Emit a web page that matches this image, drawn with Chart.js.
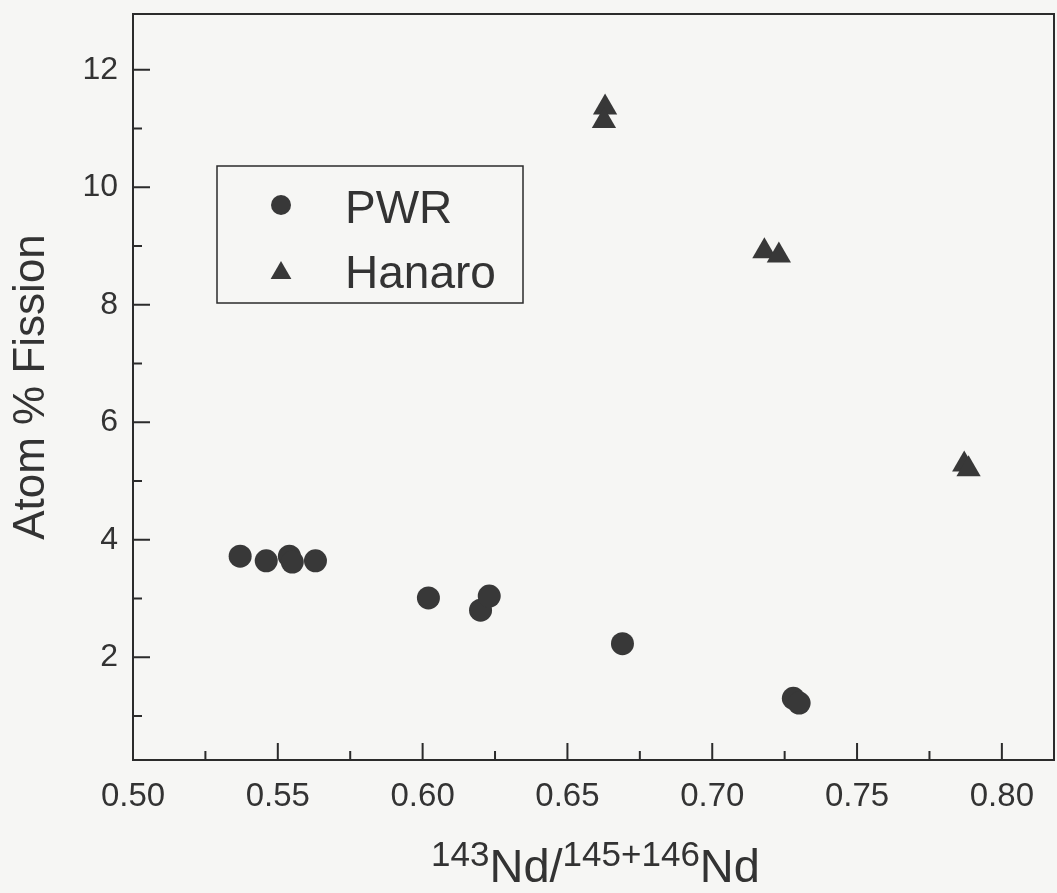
<!DOCTYPE html>
<html>
<head>
<meta charset="utf-8">
<script src="https://cdn.jsdelivr.net/npm/chart.js@4.4.1/dist/chart.umd.min.js"></script>
<style>
  html, body { margin: 0; padding: 0; background: #f6f6f4; overflow: hidden; }
  #wrap { width: 1057px; height: 893px; position: relative; }
  #wrap canvas { display: block; }
</style>
</head>
<body>
<div id="wrap"><canvas id="fissionChart"></canvas></div>
<script>
// Data
const pwrX = [0.537, 0.546, 0.554, 0.555, 0.563, 0.602, 0.620, 0.623, 0.669, 0.728, 0.730];
const pwrY = [3.72, 3.64, 3.72, 3.62, 3.64, 3.01, 2.80, 3.04, 2.23, 1.30, 1.22];

const hanaroX = [0.663, 0.6626, 0.718, 0.723, 0.787, 0.7885];
const hanaroY = [11.36, 11.13, 8.91, 8.84, 5.28, 5.20];

// Axis ticks
const xMajorTicks = [0.50, 0.55, 0.60, 0.65, 0.70, 0.75, 0.80];
const xMinorTicks = [0.525, 0.575, 0.625, 0.675, 0.725, 0.775];
const yMajorTicks = [2, 4, 6, 8, 10, 12];
const yMinorTicks = [1, 3, 5, 7, 9, 11];

const seriesLabels = ['PWR', 'Hanaro'];

const inkColor = '#2b2b2b';
const textColor = '#333333';
const markColor = '#383838';
const fontFamily = "'Liberation Sans', Arial, Helvetica, sans-serif";

function toPoints(xs, ys) {
    return xs.map((v, i) => ({x: v, y: ys[i]}));
}

// drop the extra room Chart.js keeps for edge labels
function noEdgePadding(scale) {
    scale.paddingTop = 0;
    scale.paddingBottom = 0;
    scale.paddingLeft = 0;
    scale.paddingRight = 0;
}

// Frame, inward ticks, legend and x title drawn on top of the chart
const decorPlugin = {
    id: 'decor',
    afterDraw(chart) {
        const ctx = chart.ctx;
        const a = chart.chartArea;
        const xs = chart.scales.x;
        const ys = chart.scales.y;

        ctx.save();
        ctx.strokeStyle = inkColor;
        ctx.lineWidth = 2;
        ctx.strokeRect(a.left, a.top, a.right - a.left, a.bottom - a.top);

        // ticks pointing into the plot
        ctx.beginPath();
        xMajorTicks.forEach(v => {
            const px = xs.getPixelForValue(v);
            ctx.moveTo(px, a.bottom);
            ctx.lineTo(px, a.bottom - 17);
        });
        xMinorTicks.forEach(v => {
            const px = xs.getPixelForValue(v);
            ctx.moveTo(px, a.bottom);
            ctx.lineTo(px, a.bottom - 9);
        });
        yMajorTicks.forEach(v => {
            const py = ys.getPixelForValue(v);
            ctx.moveTo(a.left, py);
            ctx.lineTo(a.left + 17, py);
        });
        yMinorTicks.forEach(v => {
            const py = ys.getPixelForValue(v);
            ctx.moveTo(a.left, py);
            ctx.lineTo(a.left + 9, py);
        });
        ctx.stroke();

        // legend box
        const lx = 217, ly = 166, lw = 306, lh = 137;
        ctx.lineWidth = 1.5;
        ctx.strokeRect(lx, ly, lw, lh);
        chart.data.datasets.forEach((ds, i) => {
            const cy = ly + 39 + i * 65;
            ctx.fillStyle = markColor;
            Chart.helpers.drawPoint(ctx, {
                pointStyle: ds.pointStyle,
                radius: ds.pointStyle === 'triangle' ? 12 : 10,
                rotation: 0,
                borderWidth: 0
            }, lx + 64, ds.pointStyle === 'triangle' ? cy + 3 : cy);
            ctx.fillStyle = textColor;
            ctx.font = '46px ' + fontFamily;
            ctx.textBaseline = 'alphabetic';
            ctx.textAlign = 'left';
            ctx.fillText(ds.label, lx + 128, cy + 18);
        });

        // x title with superscript mass numbers
        const parts = [
            {t: '143', sup: true},
            {t: 'Nd', sup: false},
            {t: '/', sup: false},
            {t: '145+146', sup: true},
            {t: 'Nd', sup: false}
        ];
        const bigFont = '47px ' + fontFamily;
        const supFont = '35px ' + fontFamily;
        let total = 0;
        parts.forEach(p => {
            ctx.font = p.sup ? supFont : bigFont;
            p.w = ctx.measureText(p.t).width;
            total += p.w;
        });
        let tx = (a.left + a.right) / 2 + 2 - total / 2;
        const base = 882;
        ctx.fillStyle = textColor;
        ctx.textAlign = 'left';
        parts.forEach(p => {
            ctx.font = p.sup ? supFont : bigFont;
            ctx.fillText(p.t, tx, p.sup ? base - 16 : base);
            tx += p.w;
        });
        ctx.restore();
    }
};

function createFissionChart() {
    const ctx = document.getElementById('fissionChart').getContext('2d');

    new Chart(ctx, {
        type: 'scatter',
        data: {
            datasets: [
                {
                    label: seriesLabels[0],
                    data: toPoints(pwrX, pwrY),
                    pointStyle: 'circle',
                    pointRadius: 11.5,
                    backgroundColor: markColor,
                    borderWidth: 0
                },
                {
                    label: seriesLabels[1],
                    data: toPoints(hanaroX, hanaroY),
                    pointStyle: 'triangle',
                    pointRadius: 14,
                    backgroundColor: markColor,
                    borderWidth: 0
                }
            ]
        },
        options: {
            responsive: true,
            maintainAspectRatio: false,
            animation: false,
            layout: {
                autoPadding: false,
                padding: {top: 14, right: 3, left: 0, bottom: 0}
            },
            plugins: {
                legend: {display: false},
                tooltip: {enabled: false}
            },
            scales: {
                x: {
                    type: 'linear',
                    min: 0.5,
                    max: 0.818,
                    grid: {display: false, drawTicks: false},
                    border: {display: false},
                    afterBuildTicks: scale => {
                        scale.ticks = xMajorTicks.map(v => ({value: v}));
                    },
                    afterFit: scale => {
                        scale.height = 133;
                        noEdgePadding(scale);
                    },
                    ticks: {
                        padding: 20,
                        color: textColor,
                        font: {family: fontFamily, size: 33, lineHeight: 1},
                        callback: v => v.toFixed(2)
                    }
                },
                y: {
                    type: 'linear',
                    min: 0.25,
                    max: 12.95,
                    grid: {display: false, drawTicks: false},
                    border: {display: false},
                    afterBuildTicks: scale => {
                        scale.ticks = yMajorTicks.map(v => ({value: v}));
                    },
                    afterFit: scale => {
                        scale.width = 133;
                        noEdgePadding(scale);
                    },
                    ticks: {
                        padding: 15,
                        color: textColor,
                        font: {family: fontFamily, size: 32, lineHeight: 1}
                    },
                    title: {
                        display: true,
                        text: 'Atom % Fission',
                        color: textColor,
                        font: {family: fontFamily, size: 44, lineHeight: 1.2},
                        padding: {top: 5, bottom: 0}
                    }
                }
            }
        },
        plugins: [decorPlugin]
    });
}

document.addEventListener('DOMContentLoaded', createFissionChart);
</script>
</body>
</html>
